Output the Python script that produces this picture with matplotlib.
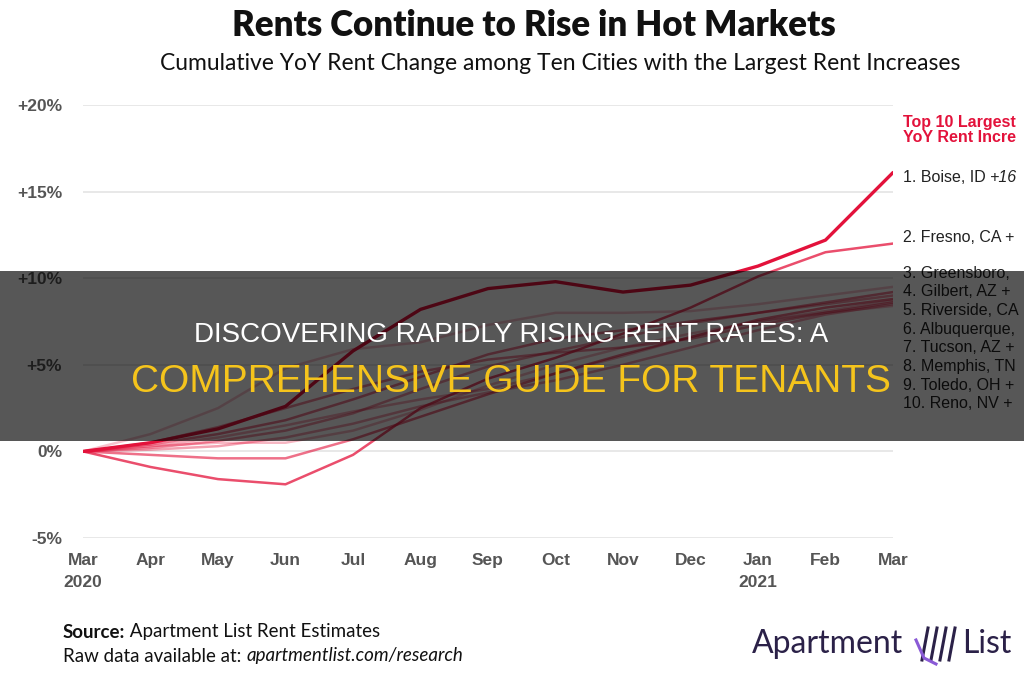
import numpy as np
import matplotlib.pyplot as plt
from matplotlib.patches import Rectangle
from matplotlib.lines import Line2D

W, H = 1024, 680

months = ['Mar\n2020', 'Apr', 'May', 'Jun', 'Jul', 'Aug', 'Sep', 'Oct', 'Nov', 'Dec', 'Jan\n2021', 'Feb', 'Mar']

# cumulative yoy rent change (%)
boise = [0, 0.5, 1.3, 2.6, 5.8, 8.2, 9.4, 9.8, 9.2, 9.6, 10.7, 12.2, 16.1]
fresno = [0, -0.9, -1.6, -1.9, -0.2, 2.5, 4.2, 5.4, 6.8, 8.3, 10.1, 11.5, 12.0]
greensboro = [0, 1.0, 2.5, 4.8, 5.9, 6.3, 7.3, 8.0, 8.0, 8.1, 8.5, 9.0, 9.5]
gilbert = [0, 0.4, 1.0, 1.8, 3.0, 4.3, 5.6, 6.5, 7.0, 7.5, 8.0, 8.6, 9.2]
riverside = [0, 0.2, 0.6, 1.2, 2.2, 3.6, 4.9, 5.8, 6.6, 7.4, 8.0, 8.5, 9.0]
albuquerque = [0, -0.2, -0.4, -0.4, 0.7, 2.0, 3.3, 4.5, 5.6, 6.6, 7.6, 8.3, 8.8]
tucson = [0, 0.3, 0.8, 1.5, 2.3, 3.0, 3.6, 4.5, 5.5, 6.6, 7.5, 8.1, 8.7]
memphis = [0, 0.5, 1.4, 2.5, 3.6, 4.6, 5.3, 5.7, 6.0, 6.5, 7.3, 8.0, 8.6]
toledo = [0, 0.1, 0.3, 0.8, 1.6, 2.6, 3.4, 4.1, 5.0, 6.0, 7.0, 7.9, 8.5]
reno = [0, 0.3, 0.5, 0.5, 1.2, 2.4, 3.8, 5.0, 6.0, 6.8, 7.5, 8.0, 8.4]

series = [boise, fresno, greensboro, gilbert, riverside, albuquerque, tucson, memphis, toledo, reno]
alphas = [1.0, 0.75, 0.25, 0.55, 0.45, 0.6, 0.35, 0.5, 0.4, 0.3]

# ranking labels, as far as they show before the right edge of the picture
labels = ['1. Boise, ID ', '2. Fresno, CA +', '3. Greensboro,', '4. Gilbert, AZ +', '5. Riverside, CA',
          '6. Albuquerque,', '7. Tucson, AZ +', '8. Memphis, TN', '9. Toledo, OH +', '10. Reno, NV +']
changes = ['+16', '', '', '', '', '', '', '', '', '']

yticks = [-5, 0, 5, 10, 15, 20]
ytick_labels = ['-5%', '0%', '+5%', '+10%', '+15%', '+20%']

RED = '#e3123b'
GREY = '#555555'


def fx(px):
    return px / W


def fy(py):
    return 1 - py / H


fig = plt.figure(figsize=(W / 100, H / 100), dpi=100)
fig.patch.set_facecolor('white')
renderer = fig.canvas.get_renderer()


def put_segments(x_px, y_px, parts, **kw):
    # draw text pieces one after the other on the same baseline
    x = fx(x_px)
    for txt, extra in parts:
        if not txt:
            continue
        opts = dict(kw)
        opts.update(extra)
        t = fig.text(x, fy(y_px), txt, va='center', ha='left', **opts)
        bb = t.get_window_extent(renderer=renderer)
        x = fig.transFigure.inverted().transform((bb.x1, bb.y0))[0]


ax = fig.add_axes([fx(83), fy(538), fx(893 - 83), (538 - 105) / H])
x = np.arange(len(months))
for vals, a in reversed(list(zip(series, alphas))):
    lw = 2.4 if vals is boise else 1.8
    ax.plot(x, vals, color=RED, alpha=a, lw=lw, solid_joinstyle='round', solid_capstyle='round')

ax.set_xlim(0, len(months) - 1)
ax.set_ylim(-5, 20)
ax.set_yticks(yticks)
ax.set_yticklabels(ytick_labels)
ax.set_xticks(x)
ax.set_xticklabels(months)
ax.yaxis.grid(True, color='#e4e4e4', lw=1.2)
ax.set_axisbelow(True)
for s in ax.spines.values():
    s.set_visible(False)
ax.tick_params(axis='y', length=0, pad=15, labelsize=12.5, labelcolor=GREY)
ax.tick_params(axis='x', length=0, pad=11, labelsize=12.5, labelcolor=GREY)
for t in ax.get_yticklabels() + ax.get_xticklabels():
    t.set_fontweight('bold')
    t.set_fontfamily('Liberation Sans')
for t in ax.get_xticklabels():
    t.set_linespacing(1.6)
    t.set_verticalalignment('top')

# titles
fig.text(fx(534), fy(26), 'Rents Continue to Rise in Hot Markets', ha='center', va='center',
         fontsize=25, fontweight='heavy', family='Lato', color='#111111')
fig.text(fx(560), fy(63), 'Cumulative YoY Rent Change among Ten Cities with the Largest Rent Increases',
         ha='center', va='center', fontsize=16.5, family='Lato', color='#111111')

# right-hand ranking
fig.text(fx(903), fy(122), 'Top 10 Largest', ha='left', va='center', fontsize=11.5,
         fontweight='bold', family='Liberation Sans', color=RED)
fig.text(fx(903), fy(138), 'YoY Rent Incre', ha='left', va='center', fontsize=11.5,
         fontweight='bold', family='Liberation Sans', color=RED)
label_y = [178, 237, 273, 292, 311, 329, 348, 367, 385, 403]
for lab, ch, yy in zip(labels, changes, label_y):
    put_segments(903, yy, [(lab, {}), (ch, {'style': 'italic'})],
                 fontsize=11.5, family='Liberation Sans', color='#222222')

# footer
put_segments(63, 632, [('Source:', {'fontweight': 'bold'}), (' Apartment List Rent Estimates', {})],
             fontsize=13.5, family='Lato', color='#111111')
put_segments(63, 656, [('Raw data available at: ', {}), ('apartmentlist.com/research', {'style': 'italic'})],
             fontsize=13.5, family='Lato', color='#111111')

# logo
fig.text(fx(752), fy(644), 'Apartment', ha='left', va='center', fontsize=23, family='Lato', color='#2b2148')
fig.text(fx(962), fy(644), 'List', ha='left', va='center', fontsize=23, family='Lato', color='#2b2148')
for dx in [0, 9, 18, 27]:
    fig.add_artist(Line2D([fx(922 + dx), fx(928 + dx)], [fy(660), fy(628)], color='#2b2148', lw=2.2))
fig.add_artist(Line2D([fx(916), fx(924), fx(936)], [fy(640), fy(658), fy(664)], color='#8a5ad6', lw=2.2))

# dark overlay banner
fig.add_artist(Rectangle((0, fy(441)), 1, (441 - 271) / H, transform=fig.transFigure,
                         facecolor='black', alpha=0.66, edgecolor='none', zorder=10))
fig.text(fx(511), fy(335), 'DISCOVERING RAPIDLY RISING RENT RATES: A', ha='center', va='center',
         fontsize=20, family=['Liberation Sans Narrow', 'Liberation Sans'], color='white', zorder=11)
fig.text(fx(511), fy(382), 'COMPREHENSIVE GUIDE FOR TENANTS', ha='center', va='center',
         fontsize=28, family=['Liberation Sans Narrow', 'Liberation Sans'], color='#f5c41c', zorder=11)

fig.savefig('out.png', dpi=100)
